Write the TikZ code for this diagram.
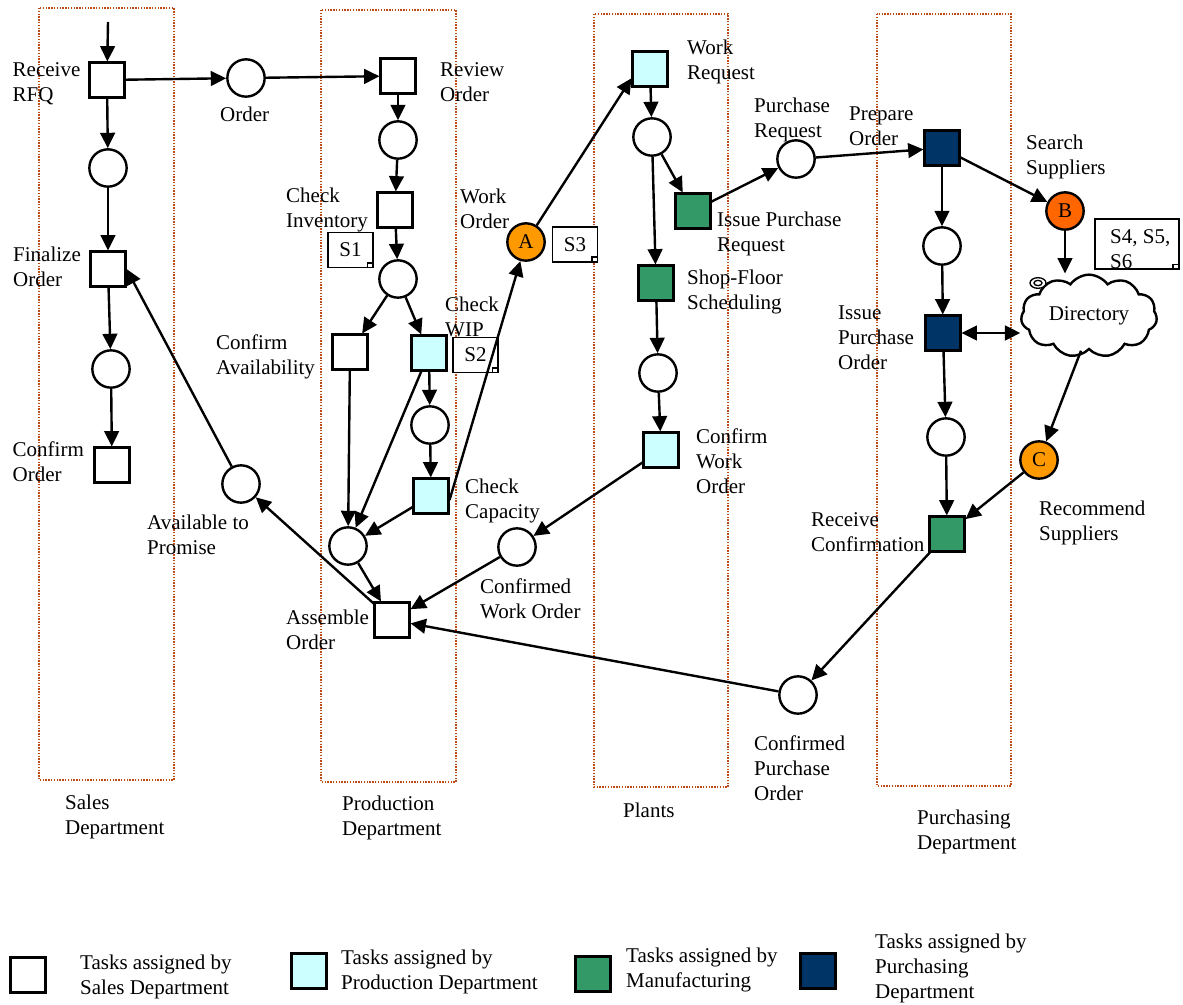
\documentclass[tikz,border=0pt]{standalone}
\usepackage{fontspec}
\setmainfont{Liberation Serif}
\usetikzlibrary{arrows.meta,shapes.symbols,calc}

\definecolor{wipcyan}{RGB}{204,255,255}
\definecolor{mfggreen}{RGB}{51,153,102}
\definecolor{purnavy}{RGB}{0,51,102}
\definecolor{agentorange}{RGB}{255,153,0}
\definecolor{agentred}{RGB}{255,102,0}
\definecolor{lanered}{RGB}{190,75,20}

\newcommand\lblfont{\fontsize{15.75pt}{18.75pt}\selectfont}

\tikzset{every picture/.style={line width=1.8pt}}
\tikzset{
  task/.style={draw, rectangle, minimum size=26pt, inner sep=0pt, fill=white},
  place/.style={draw, circle, minimum size=28pt, inner sep=0pt, fill=white},
  agent/.style={place, font=\lblfont},
  lbl/.style={anchor=base west, inner sep=0pt, align=left, font=\lblfont},
  lane/.style={draw=lanered, densely dotted, line width=1.1pt},
  memo/.style={draw, fill=white, line width=1.2pt, inner sep=0pt, minimum width=34pt, minimum height=26pt, font=\lblfont},
  flow/.style={-{Triangle[length=11.5pt,width=11pt]}},
  flowboth/.style={{Triangle[length=11.5pt,width=11pt]}-{Triangle[length=11.5pt,width=11pt]}}
}

\begin{document}
\begin{tikzpicture}[x=0.75pt,y=0.75pt,yscale=-1,xscale=1]
\useasboundingbox (0,0) rectangle (1183,1005);

%Lanes
\draw[lane] (39,8) rectangle (174,780);
\draw[lane] (321,10) rectangle (456,782);
\draw[lane] (594,14) rectangle (728,787);
\draw[lane] (877,14) rectangle (1011,786);

%Sales Department
\coordinate (entry) at (108,22);
\node[task] (rfq) at (107,80) {};
\node[place] (p1) at (108,168) {};
\node[task] (fin) at (108,269) {};
\node[place] (p2) at (111,369) {};
\node[task] (conf) at (112,465) {};
\node[place] (order) at (246,78) {};
\node[place] (atp) at (241,484) {};

%Production Department
\node[task] (review) at (398,76) {};
\node[place] (p3) at (398,140) {};
\node[task] (chkinv) at (395,210) {};
\node[place] (p4) at (398,279) {};
\node[task] (confav) at (350,352) {};
\node[task, fill=wipcyan] (wip) at (429,353) {};
\node[place] (p5) at (430,425) {};
\node[task, fill=wipcyan] (cap) at (431,496) {};
\node[place] (merge) at (348,546) {};
\node[task] (asm) at (392,620) {};
\node[place] (pcwo) at (517,547) {};
\node[agent, fill=agentorange] (A) at (526,242) {A};

%Notes
\node[memo] (s1) at (350.5,250) {S1};
\node[memo] (s2) at (475.5,355) {S2};
\node[memo] (s3) at (575,244.5) {S3};
\node[memo, minimum width=63pt, minimum height=37.5pt, fill=none] (s456) at (1137,244) {};
\node[lbl] (s456txt) at (1109,269) {S4, S5,\\S6};
\foreach \m in {s1,s2,s3,s456}
  \draw[line width=1.2pt] ([xshift=-5pt]\m.south east) -- ([xshift=-5pt,yshift=-4pt]\m.south east) -- ([yshift=-4pt]\m.south east);

%Plants
\node[task, fill=wipcyan] (wreq) at (650,69) {};
\node[place] (p6) at (652,137) {};
\node[task, fill=mfggreen] (ipr) at (693,211) {};
\node[task, fill=mfggreen] (shop) at (656,283) {};
\node[place] (p7) at (658,373) {};
\node[task, fill=wipcyan] (cwo) at (661,450) {};
\node[place] (preq) at (796,159) {};
\node[place] (cpo) at (798,695) {};

%Purchasing Department
\node[task, fill=purnavy] (prep) at (942,148) {};
\node[place] (p8) at (942,246) {};
\node[task, fill=purnavy] (ipo) at (943,333) {};
\node[place] (p9) at (946,437) {};
\node[task, fill=mfggreen] (rc) at (947,534) {};
\node[agent, fill=agentred] (B) at (1065,211) {B};
\node[agent, fill=agentorange] (C) at (1039,460) {C};
\node[cloud, draw, cloud puffs=11, cloud puff arc=110, aspect=1.7, minimum width=102pt, minimum height=62pt, inner sep=0pt, font=\lblfont] (dir) at (1089,316) {Directory};
\draw[line width=1pt, fill=white] (1038,283) ellipse [x radius=6pt, y radius=4pt];
\draw[line width=1pt] (1038,283) ellipse [x radius=3pt, y radius=2pt];

%Straight Lines
\draw[flow] (entry) -- (rfq);
\draw[flow] (rfq) -- (p1);
\draw[flow] (p1) -- (fin);
\draw[flow] (fin) -- (p2);
\draw[flow] (p2) -- (conf);
\draw[flow] (rfq) -- (order);
\draw[flow] (order) -- (review);
\draw[flow] (review) -- (p3);
\draw[flow] (p3) -- (chkinv);
\draw[flow] (chkinv) -- (p4);
\draw[flow] (p4) -- (confav);
\draw[flow] (p4) -- (wip);
\draw[flow] (wip) -- (p5);
\draw[flow] (p5) -- (cap);
\draw[flow] (wip) -- (merge);
\draw[flow] (confav) -- (merge);
\draw[flow] (cap) -- (merge);
\draw[flow] (merge) -- (asm);
\draw[flow] ([yshift=3pt]cap.east) -- (A);
\draw[flow] (A) -- ($(wreq.west)!0.5!(wreq.south west)$);
\draw[flow] (wreq) -- (p6);
\draw[flow] (p6) -- (ipr);
\draw[flow] (p6) -- (shop);
\draw[flow] (shop) -- (p7);
\draw[flow] (p7) -- (cwo);
\draw[flow] (ipr) -- (preq);
\draw[flow] (preq) -- (prep);
\draw[flow] (prep) -- (p8);
\draw[flow] (p8) -- (ipo);
\draw[flow] (ipo) -- (p9);
\draw[flow] (p9) -- (rc);
\draw[flow] (prep) -- (B);
\draw[flow] (B) -- (B |- dir.north);
\draw[flowboth] (ipo.east) -- (ipo.east -| dir.west);
\draw[flow] ([xshift=-6pt]dir.south) -- (C);
\draw[flow] (C) -- (rc);
\draw[flow] (rc) -- (cpo);
\draw[flow] (cpo) -- (asm);
\draw[flow] (cwo) -- (pcwo);
\draw[flow] (pcwo) -- (asm);
\draw[flow] (asm) -- (atp);
\draw[flow] (atp) -- (fin.east);

% Text Node
\node[lbl] (trfq) at (11.5,102) {Receive\\RFQ};
\node[lbl] (torder) at (219,122) {Order};
\node[lbl] (treview) at (439,102) {Review\\Order};
\node[lbl] (tchkinv) at (285,228) {Check\\Inventory};
\node[lbl] (twork) at (459,229) {Work\\Order};
\node[lbl] (tfin) at (12,287) {Finalize\\Order};
\node[lbl] (tconfav) at (215,375) {Confirm\\Availability};
\node[lbl] (twip) at (444,337) {Check\\WIP};
\node[lbl] (tconf) at (11.5,482) {Confirm\\Order};
\node[lbl] (tatp) at (146,555) {Available to\\Promise};
\node[lbl] (tcap) at (464,519) {Check\\Capacity};
\node[lbl] (tpcwo) at (479,619) {Confirmed\\Work Order};
\node[lbl] (tasm) at (285,650) {Assemble\\Order};
\node[lbl] (twreq) at (686,80) {Work\\Request};
\node[lbl] (tpreq) at (753,138) {Purchase\\Request};
\node[lbl] (tprep) at (848,146) {Prepare\\Order};
\node[lbl] (tsearch) at (1025,175) {Search\\Suppliers};
\node[lbl] (tipr) at (716,252) {Issue Purchase\\Request};
\node[lbl] (tshop) at (686,310) {Shop-Floor\\Scheduling};
\node[lbl] (tipo) at (837,370) {Issue\\Purchase\\Order};
\node[lbl] (tcwo) at (695,494) {Confirm\\Work\\Order};
\node[lbl] (trec) at (1038,541) {Recommend\\Suppliers};
\node[lbl] (trc) at (810,552) {Receive\\Confirmation};
\node[lbl] (tcpo) at (753,800) {Confirmed\\Purchase\\Order};
\node[lbl] (tsales) at (64,834) {Sales\\Department};
\node[lbl] (tprod) at (341,835) {Production\\Department};
\node[lbl] (tplants) at (622,817) {Plants};
\node[lbl] (tpurch) at (916,849) {Purchasing\\Department};

%Legend
\node[task] (leg1) at (28,975) {};
\node[task, fill=wipcyan] (leg2) at (309,971) {};
\node[task, fill=mfggreen] (leg3) at (593,974) {};
\node[task, fill=purnavy] (leg4) at (818,971) {};
\node[lbl] (tleg1) at (79,994) {Tasks assigned by\\Sales Department};
\node[lbl] (tleg2) at (340,989) {Tasks assigned by\\Production Department};
\node[lbl] (tleg3) at (625,987) {Tasks assigned by\\Manufacturing};
\node[lbl] (tleg4) at (874,998) {Tasks assigned by\\Purchasing\\Department};

\end{tikzpicture}
\end{document}
